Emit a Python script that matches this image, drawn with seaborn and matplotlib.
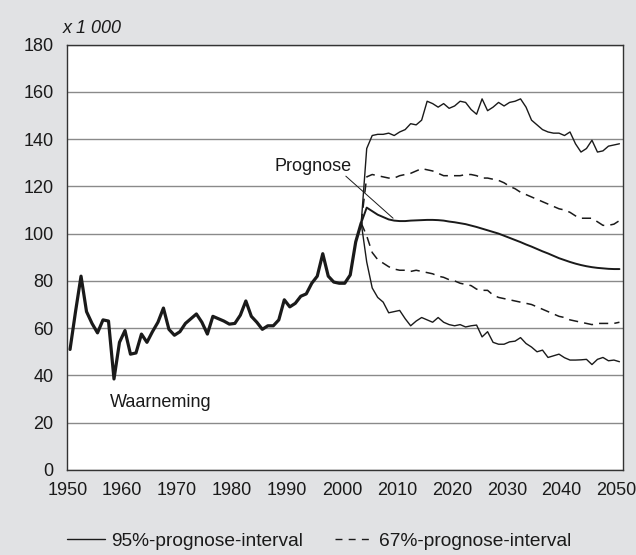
import numpy as np
import pandas as pd
import seaborn as sns
import matplotlib.pyplot as plt
from matplotlib.lines import Line2D

# waarneming 1950-2003 (x 1 000)
obs_years = np.arange(1950, 2004)
obs_values = [51, 67, 82, 67, 62, 58, 63.5, 63, 38.5, 54,
              59, 49, 49.5, 57.5, 54, 58.5, 62.5, 68.5, 59.5, 57,
              58.5, 62, 64, 66, 62.5, 57.5, 65, 64, 63, 61.7,
              62, 65.5, 71.5, 65, 62.5, 59.5, 61, 61, 63.5, 72,
              69, 70.5, 73.5, 74.5, 79, 82, 91.5, 82, 79.5, 79,
              79, 82.5, 96.5, 104.5]

# prognose 2003-2050
prog_years = np.arange(2003, 2051)
prognose = [104.5, 111, 109.5, 108, 107, 106, 105.5, 105.3, 105.3, 105.5,
            105.6, 105.7, 105.8, 105.8, 105.7, 105.5, 105.1, 104.8, 104.4, 104,
            103.4, 102.8, 102.1, 101.4, 100.7, 100, 99.1, 98.2, 97.3, 96.4,
            95.4, 94.5, 93.5, 92.5, 91.6, 90.6, 89.6, 88.8, 88, 87.3,
            86.7, 86.2, 85.8, 85.5, 85.3, 85.1, 85, 85]
upper95 = [104.5, 136, 141.5, 142, 142, 142.5, 141.5, 143, 144, 146.5,
           146, 148, 156, 155, 153.5, 155, 153, 154, 156, 155.5,
           152.5, 150.5, 157, 152, 153.5, 155.5, 154, 155.5, 156, 157,
           153.5, 148, 146, 144, 143, 142.5, 142.5, 141.5, 143, 138,
           134.5, 136, 139.5, 134.5, 135, 137, 137.5, 138]
lower95 = [104.5, 88, 77, 73, 71, 66.5, 67, 67.5, 64, 61,
           63, 64.5, 63.5, 62.5, 64.5, 62.5, 61.5, 61, 61.5, 60.5,
           61, 61.3, 56.3, 58.5, 54, 53.2, 53.2, 54.2, 54.5, 56,
           53.5, 52, 50, 50.7, 47.6, 48.3, 49, 47.5, 46.5, 46.5,
           46.6, 46.8, 44.6, 46.8, 47.6, 46.2, 46.5, 45.8]
upper67 = [104.5, 124, 125, 124.5, 124, 123.5, 123.5, 124.5, 125, 125.5,
           126.5, 127.5, 127, 126.5, 125.5, 124.5, 124.5, 124.5, 124.5, 125,
           125, 124.5, 123.5, 123.5, 123, 122.5, 121.5, 120, 119, 117.5,
           116.5, 115.5, 114.5, 113.5, 112.5, 111.5, 110.5, 110, 109, 107.5,
           106.5, 106.5, 106.5, 105, 103.5, 103.5, 104, 105.5]
lower67 = [104.5, 99, 92, 89, 87.5, 86, 85, 84.5, 84.5, 84,
           84.5, 84, 83.5, 83, 82, 81.5, 80.5, 80, 79, 78.5,
           78, 76.5, 76, 76, 74, 73, 72.5, 72, 71.5, 71,
           70.5, 70, 69, 68, 67, 66, 65, 64.5, 63.5, 63,
           62.5, 62, 61.5, 62, 62, 62, 62, 62.5]

bg = '#e1e2e4'
ink = '#1a1a1a'
sns.set_style('white')
plt.rcParams['font.family'] = ['Liberation Sans', 'DejaVu Sans']

fig = plt.figure(figsize=(6.36, 5.55), dpi=100, facecolor=bg)
ax = fig.add_axes([0.1058, 0.1532, 0.8742, 0.7666])
ax.set_facecolor('white')

# jaarwaarden midden in het jaar
ox = obs_years + 0.5
px = prog_years + 0.5

for vals in (upper95, lower95):
    sns.lineplot(x=px, y=vals, ax=ax, color=ink, lw=1.0)
for vals in (upper67, lower67):
    sns.lineplot(x=px, y=vals, ax=ax, color=ink, lw=1.1, linestyle=(0, (6, 4)))
sns.lineplot(x=px, y=prognose, ax=ax, color=ink, lw=1.4)
sns.lineplot(x=ox, y=obs_values, ax=ax, color=ink, lw=2.3)

ax.set_xlim(1950, 2051.2)
ax.set_ylim(0, 180)
ax.set_xticks(range(1950, 2051, 10))
ax.set_yticks(range(0, 181, 20))
ax.yaxis.grid(True, color='#8a8a8a', lw=1.0)
ax.set_axisbelow(True)
for s in ax.spines.values():
    s.set_color('#333333')
    s.set_linewidth(1.0)
ax.tick_params(axis='x', length=5, width=0.9, color='#333333', direction='out',
               labelsize=13, labelcolor=ink, pad=4)
ax.tick_params(axis='y', length=0, labelsize=13, labelcolor=ink, pad=10)

ax.text(1949.2, 183, 'x 1 000', fontsize=13, style='italic', color=ink,
        va='bottom', ha='left')
ax.text(1967, 28.5, 'Waarneming', fontsize=13, color=ink, ha='center', va='center')
ax.text(1994.7, 128.5, 'Prognose', fontsize=13, color=ink, ha='center', va='center')
ax.plot([2000.7, 2009.3], [124.3, 106.5], color=ink, lw=0.7)

handles = [Line2D([], [], color=ink, lw=1.0),
           Line2D([], [], color=ink, lw=1.0, linestyle=(0, (5, 4.5)))]
fig.legend(handles, ['95%-prognose-interval', '67%-prognose-interval'],
           loc='center', bbox_to_anchor=(0.502, 0.025), ncol=2, frameon=False,
           fontsize=13.8, handlelength=2.0, columnspacing=1.7, handletextpad=0.3,
           labelcolor=ink)

fig.savefig('out.png', dpi=100, facecolor=bg)
